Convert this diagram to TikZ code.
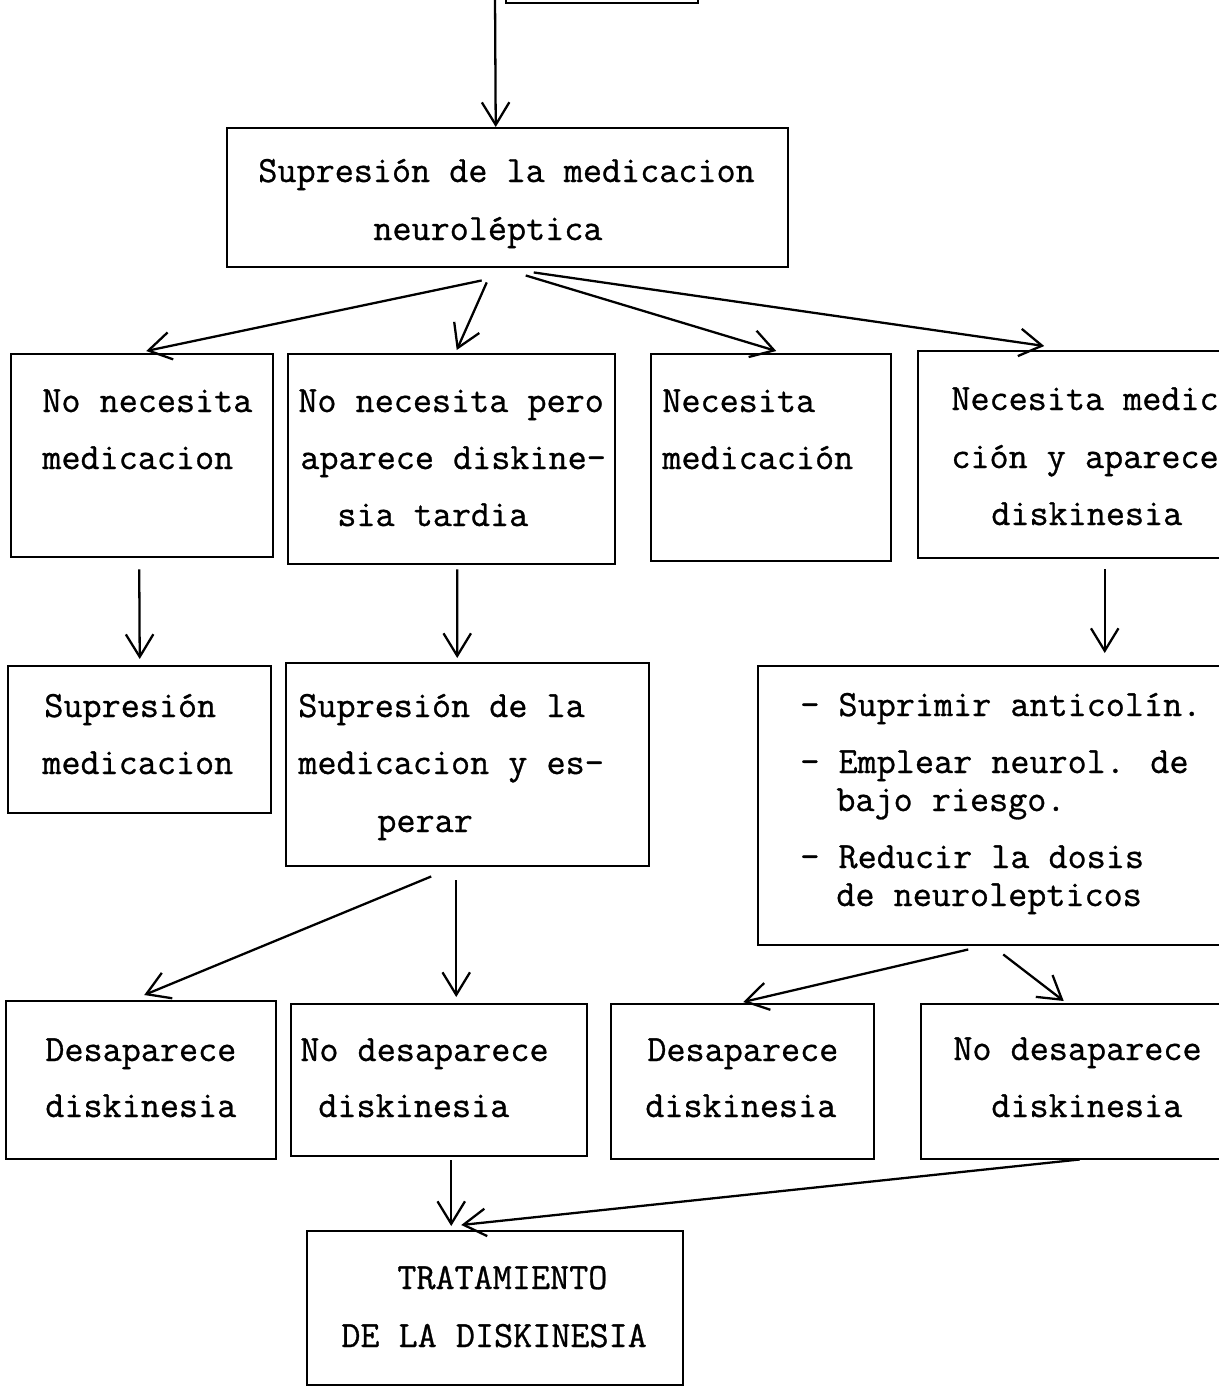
\documentclass[tikz,border=0pt]{standalone}
\usepackage{fontspec}
\newfontfamily\tw[FakeBold=0.8]{Latin Modern Mono}
\usetikzlibrary{arrows.meta,calc}
\tikzset{
  box/.style={draw, line width=1.4pt, inner sep=0pt, anchor=north west},
  txt/.style={inner sep=0pt, anchor=base west, font=\tw\fontsize{21.1pt}{32pt}\selectfont},
  arr/.style={line width=1.3pt, -{Straight Barb[length=0.45cm, width=0.55cm, line width=1.3pt]}}
}
\newcommand{\bx}[5]{\node[box, minimum width={(#4-#2)*0.02cm}, minimum height={(#5-#3)*0.02cm}] (#1) at (#2,#3) {};}
\begin{document}
\begin{tikzpicture}[x=0.02cm,y=-0.02cm]
\useasboundingbox (0,0) rectangle (1219,1386);
\clip (0,0) rectangle (1219,1386);
% boxes
\bx{src}{505}{-120}{697}{2}
\bx{a}{226}{127}{787}{266}
\bx{b1}{10}{353}{272}{556}
\bx{b2}{287}{353}{614}{563}
\bx{b3}{650}{353}{890}{560}
\bx{b4}{917}{350}{1245}{557}
\bx{c1}{7}{665}{270}{812}
\bx{c2}{285}{662}{648}{865}
\bx{c3}{757}{665}{1245}{944}
\bx{d1}{5}{1000}{275}{1158}
\bx{d2}{290}{1003}{586}{1155}
\bx{d3}{610}{1003}{873}{1158}
\bx{d4}{920}{1003}{1245}{1158}
\bx{e}{306}{1230}{682}{1384}
% texts
\node[txt] (ta1) at (258,182) {Supresión de la medicacion};
\node[txt] (ta2) at (373,240) {neuroléptica};
\node[txt] (tb11) at (42,412) {No necesita};
\node[txt] (tb12) at (42,469) {medicacion};
\node[txt] (tb21) at (298,412) {No necesita pero};
\node[txt] (tb22) at (300,469) {aparece diskine-};
\node[txt] (tb23) at (337,526) {sia tardia};
\node[txt] (tb31) at (662,412) {Necesita};
\node[txt] (tb32) at (662,469) {medicación};
\node[txt] (tb41) at (951,410) {Necesita medic};
\node[txt] (tb42) at (951,468) {ción y aparece};
\node[txt] (tb43) at (991,525) {diskinesia};
\node[txt] (tc11) at (44,717) {Supresión};
\node[txt] (tc12) at (42,774) {medicacion};
\node[txt] (tc21) at (298,717) {Supresión de la};
\node[txt] (tc22) at (298,774) {medicacion y es-};
\node[txt] (tc23) at (377,832) {perar};
\node[txt] (tc31) at (800,716) {- Suprimir anticolín.};
\node[txt] (tc32) at (800,773) {- Emplear neurol. de};
\node[txt] (tc33) at (836,811) {bajo riesgo.};
\node[txt] (tc34) at (800,868) {- Reducir la dosis};
\node[txt] (tc35) at (836,906) {de neurolepticos};
\node[txt] (td11) at (45,1061) {Desaparece};
\node[txt] (td12) at (45,1117) {diskinesia};
\node[txt] (td21) at (300,1061) {No desaparece};
\node[txt] (td22) at (318,1117) {diskinesia};
\node[txt] (td31) at (647,1061) {Desaparece};
\node[txt] (td32) at (645,1117) {diskinesia};
\node[txt] (td41) at (953,1060) {No desaparece};
\node[txt] (td42) at (991,1117) {diskinesia};
\node[txt] (te1) at (397,1289) {TRATAMIENTO};
\node[txt] (te2) at (341,1347) {DE LA DISKINESIA};
% connectors
\coordinate (in) at (495,-5);
\draw[arr] (in) -- ($(a.north)+(-12,0)$);
\draw[arr] ($(a.south)+(-26,12)$) -- ($(b1.north)+(4,-2)$);
\draw[arr] ($(a.south)+(-21,14)$) -- ($(b2.north)+(5,-3)$);
\draw[arr] ($(a.south)+(18,7)$) -- ($(b3.north)+(5,-2)$);
\draw[arr] ($(a.south)+(26,4)$) -- ($(b4.north)+(-38,-4)$);
\draw[arr] ($(b1.south)+(-3,11)$) -- ($(c1.north)+(0,-6)$);
\draw[arr] ($(b2.south)+(5.5,4)$) -- ($(c2.north)+(-10.5,-4)$);
\draw[arr] ($(b4.south)+(22.5,10)$) -- ($(c3.north)+(102.5,-12)$);
\draw[arr] ($(c2.south)+(-36.5,9)$) -- ($(d1.north)+(3,-5)$);
\draw[arr] ($(c2.south)+(-11.5,13)$) -- ($(d2.north)+(17,-6)$);
\draw[arr] ($(c3.south)+(-34,3)$) -- ($(d3.north)+(0.5,-1)$);
\draw[arr] ($(c3.south)+(1,8)$) -- ($(d4.north)+(-20,-2)$);
\draw[arr] ($(d2.south)+(12,3)$) -- ($(e.north)+(-44,-4)$);
\draw[arr] ($(d4.south)+(-4,-1)$) -- ($(e.north)+(-34,-5)$);
\end{tikzpicture}
\end{document}
